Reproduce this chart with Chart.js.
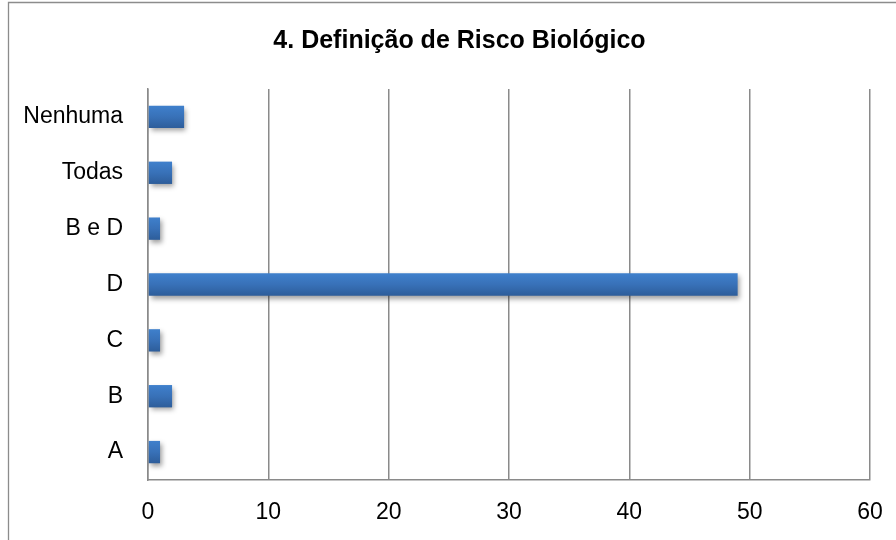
<!DOCTYPE html>
<html><head><meta charset="utf-8">
<script src="https://cdn.jsdelivr.net/npm/chart.js@4/dist/chart.umd.min.js"></script>
<style>html,body{margin:0;padding:0;background:#fff;overflow:hidden}#wrap{width:896px;height:540px;position:relative}</style>
</head><body><div id="wrap"><canvas id="c" width="896" height="540"></canvas></div>
<script>
const titleText = "4. Definição de Risco Biológico";
const categories = ["A", "B", "C", "D", "B e D", "Todas", "Nenhuma"];
const counts = [1, 2, 1, 49, 1, 2, 3];
const xTicks = [0, 10, 20, 30, 40, 50, 60];

const FONT = "'Liberation Sans', Arial, sans-serif";
const GRID = '#8a8a8a';
const BAR_PCT = 0.4;

const framePlugin = {
  id: 'frame',
  beforeDraw(chart) {
    const ctx = chart.ctx;
    ctx.save();
    ctx.strokeStyle = '#8c8c8c';
    ctx.lineWidth = 1.3;
    ctx.beginPath();
    ctx.moveTo(8.5, 540);
    ctx.lineTo(8.5, 2.5);
    ctx.lineTo(896, 2.5);
    ctx.stroke();
    ctx.restore();
  },
  afterLayout(chart) {
    // centre the title over the framed area (frame starts left of the axis labels)
    if (chart.titleBlock) {
      chart.titleBlock.left = 49;
      chart.titleBlock.right = chart.chartArea.right;
      chart.titleBlock.width = chart.titleBlock.right - chart.titleBlock.left;
    }
  }
};

const shadowPlugin = {
  id: 'barShadow',
  beforeDatasetDraw(chart) {
    const ctx = chart.ctx;
    ctx.save();
    ctx.shadowColor = 'rgba(0,0,0,0.38)';
    ctx.shadowBlur = 5;
    ctx.shadowOffsetX = 2;
    ctx.shadowOffsetY = 3;
  },
  afterDatasetDraw(chart) {
    chart.ctx.restore();
  }
};

function barGradient(c) {
  const chart = c.chart;
  const ca = chart.chartArea;
  if (!ca || !chart.scales.y) return '#3a74bb';
  const y = chart.scales.y.getPixelForValue(c.dataIndex);
  const h = (ca.bottom - ca.top) / categories.length * BAR_PCT;
  const g = chart.ctx.createLinearGradient(0, y - h / 2, 0, y + h / 2);
  g.addColorStop(0, '#3f80cc');
  g.addColorStop(0.5, '#3871b8');
  g.addColorStop(1, '#2d5d9a');
  return g;
}

new Chart(document.getElementById('c'), {
  type: 'bar',
  data: {
    labels: categories,
    datasets: [{
      data: counts,
      backgroundColor: barGradient,
      borderWidth: 0,
      categoryPercentage: 1,
      barPercentage: BAR_PCT
    }]
  },
  options: {
    indexAxis: 'y',
    responsive: false,
    animation: false,
    layout: { padding: { left: 0, right: 26, top: 0, bottom: 0 } },
    plugins: {
      legend: { display: false },
      tooltip: { enabled: false },
      title: {
        display: true,
        text: titleText,
        color: '#000',
        font: { family: FONT, size: 25, weight: 'bold', lineHeight: 1.2 },
        padding: { top: 26, bottom: 33 }
      }
    },
    scales: {
      x: {
        min: 0, max: 60,
        afterBuildTicks(scale) { scale.ticks = xTicks.map(v => ({ value: v })); },
        afterFit(scale) { scale.height = 60; scale.paddingLeft = 0; scale.paddingRight = 0; },
        grid: { color: GRID, lineWidth: 1.5, drawTicks: false },
        border: { color: GRID, width: 1.5 },
        ticks: { color: '#000', padding: 19, font: { family: FONT, size: 23 } }
      },
      y: {
        reverse: true,
        afterFit(scale) { scale.width = 148; scale.paddingTop = 0; scale.paddingBottom = 0; },
        grid: { display: false, drawTicks: false },
        border: { display: true, color: GRID, width: 1.5 },
        ticks: { color: '#000', padding: 25, font: { family: FONT, size: 23 } }
      }
    }
  },
  plugins: [framePlugin, shadowPlugin]
});
</script>
</body></html>
